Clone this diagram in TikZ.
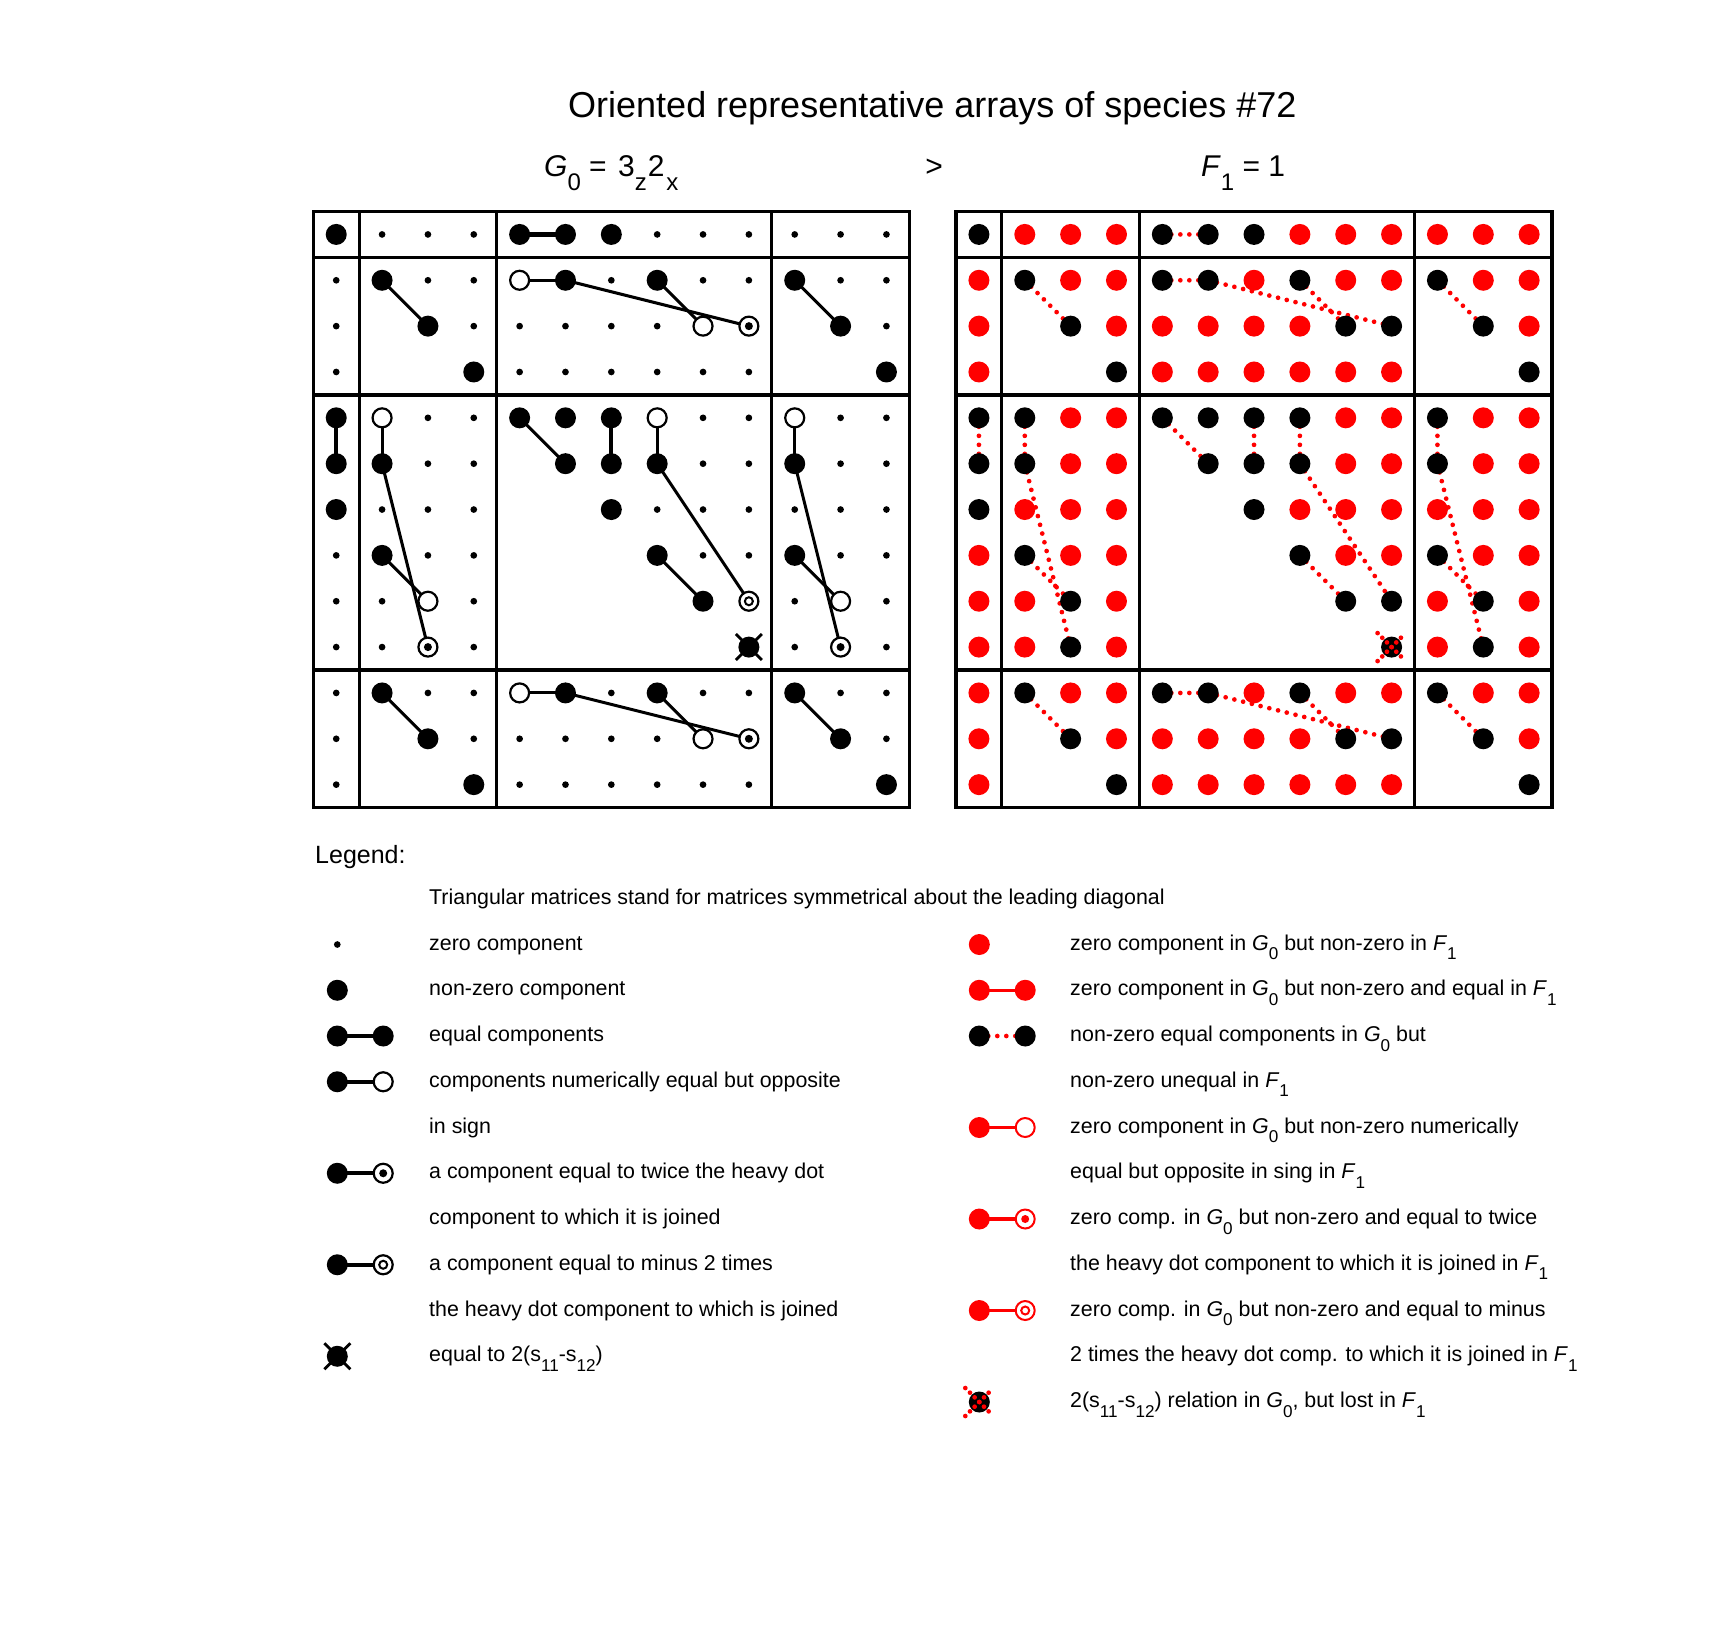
\documentclass[tikz,border=0pt]{standalone}
\usepackage{fontspec}
\setmainfont{Liberation Sans}
\usepackage{graphicx}
\pgfdeclarelayer{bg}
\pgfdeclarelayer{paper}
\pgfsetlayers{paper,bg,main}
\newcommand\sbs[1]{\raisebox{-0.45em}{\scalebox{0.8}{#1}}}
\tikzset{
  gridline/.style={line width=3.2pt},
  dotbase/.style={circle, inner sep=0pt, outer sep=0pt},
  dS/.style={dotbase, fill=black, minimum size=6.7pt},
  dB/.style={dotbase, fill=black, minimum size=21pt},
  dO/.style={dotbase, draw=black, fill=white, line width=2.2pt, minimum size=19pt},
  dT/.style={dO, path picture={\fill[black] (path picture bounding box.center) circle (4pt);}},
  dM/.style={dO, path picture={\draw[black,line width=2pt] (path picture bounding box.center) circle (4pt);}},
  dX/.style={dB},
  dE/.style={dotbase, minimum size=21pt},
  dK/.style={dB},
  dR/.style={dotbase, fill=red, minimum size=21pt},
  dL/.style={dB},
  rO/.style={dotbase, draw=red, fill=white, line width=2pt, minimum size=19pt},
  rT/.style={rO, path picture={\fill[red] (path picture bounding box.center) circle (4pt);}},
  rM/.style={rO, path picture={\draw[red,line width=2pt] (path picture bounding box.center) circle (4pt);}},
  mk/.style={d#1},
  eqline/.style={line width=4.2pt},
  cline/.style={line width=3pt},
  lgline/.style={line width=4pt},
  rline/.style={red, line width=3.3pt},
  rdot/.style={red, line width=4.7pt, line cap=round, dash pattern=on 0pt off 9pt},
  rX/.style={red, line width=4.7pt, line cap=round, dash pattern=on 0pt off 6.6pt},
  bX/.style={line width=2.8pt},
  lt/.style={anchor=base west, inner sep=0pt, font=\fontsize{21.4}{25}\selectfont},
  hd/.style={anchor=base west, inner sep=0pt, font=\fontsize{30}{34}\selectfont}
}
\begin{document}
\begin{tikzpicture}[x=1pt,y=-1pt]
\begin{pgfonlayer}{paper}
\fill[white] (0,0) rectangle (1715,1626);
\end{pgfonlayer}
\useasboundingbox (0,0) rectangle (1715,1626);

% ---------- titles
\node[anchor=base west, inner sep=0pt, font=\fontsize{36}{40}\selectfont] (title) at (568,117) {Oriented representative arrays of species \#72};
\node[hd] (hG) at (544,176.7) {\textit{G}\sbs{0} = \kern3pt 3\sbs{z}\kern1pt 2\kern2pt\sbs{x}};
\node[hd, anchor=base] (hgt) at (934,176.7) {>};
\node[hd] (hF) at (1201,176.7) {\textit{F}\sbs{1} = 1};

% ---------- grid frames
\foreach \X in {313.3,956} {
  \draw[gridline] (\X,211.5) rectangle ++(596.05,596.05);
  \foreach \k in {1,4,10} {
    \draw[gridline] ({\X+\k*45.85},211.5) -- ++(0,596.05);
    \draw[gridline] (\X,{211.5+\k*45.85}) -- ++(596.05,0);
  }
}

% ---------- left array G0
\foreach \row [count=\r] in {
  {B,S,S,S,B,B,B,S,S,S,S,S,S},
  {S,B,S,S,O,B,S,B,S,S,B,S,S},
  {S,E,B,S,S,S,S,S,O,T,E,B,S},
  {S,E,E,B,S,S,S,S,S,S,E,E,B},
  {B,O,S,S,B,B,B,O,S,S,O,S,S},
  {B,B,S,S,E,B,B,B,S,S,B,S,S},
  {B,S,S,S,E,E,B,S,S,S,S,S,S},
  {S,B,S,S,E,E,E,B,S,S,B,S,S},
  {S,S,O,S,E,E,E,E,B,M,S,O,S},
  {S,S,T,S,E,E,E,E,E,X,S,T,S},
  {S,B,S,S,O,B,S,B,S,S,B,S,S},
  {S,E,B,S,S,S,S,S,O,T,E,B,S},
  {S,E,E,B,S,S,S,S,S,S,E,E,B}}{
  \foreach \t [count=\c] in \row {
    \node[mk/.expanded=\t] (L-\r-\c) at ({313.3+(\c-0.5)*45.85},{211.5+(\r-0.5)*45.85}) {};
  }
}
\draw[bX] (L-10-10.center) ++(-13pt,-13pt) -- ++(26pt,26pt);
\draw[bX] (L-10-10.center) ++(-13pt,13pt) -- ++(26pt,-26pt);

% ---------- right array F1
\foreach \row [count=\r] in {
  {K,R,R,R,K,K,K,R,R,R,R,R,R},
  {R,K,R,R,K,K,R,K,R,R,K,R,R},
  {R,E,K,R,R,R,R,R,K,K,E,K,R},
  {R,E,E,K,R,R,R,R,R,R,E,E,K},
  {K,K,R,R,K,K,K,K,R,R,K,R,R},
  {K,K,R,R,E,K,K,K,R,R,K,R,R},
  {K,R,R,R,E,E,K,R,R,R,R,R,R},
  {R,K,R,R,E,E,E,K,R,R,K,R,R},
  {R,R,K,R,E,E,E,E,K,K,R,K,R},
  {R,R,K,R,E,E,E,E,E,L,R,K,R},
  {R,K,R,R,K,K,R,K,R,R,K,R,R},
  {R,E,K,R,R,R,R,R,K,K,E,K,R},
  {R,E,E,K,R,R,R,R,R,R,E,E,K}}{
  \foreach \t [count=\c] in \row {
    \node[mk/.expanded=\t] (R-\r-\c) at ({956+(\c-0.5)*45.85},{211.5+(\r-0.5)*45.85}) {};
  }
}
\draw[rX] (R-10-10.center) ++(-14pt,-14pt) -- ++(28pt,28pt);
\draw[rX] (R-10-10.center) ++(-14pt,14pt) -- ++(28pt,-28pt);

% ---------- connectors
\begin{pgfonlayer}{bg}
\foreach \a/\b in {1-5/1-6,5-1/6-1,5-7/6-7}
  \draw[eqline] (L-\a.center) -- (L-\b.center);
\foreach \a/\b in {2-5/2-6,2-2/3-3,2-6/3-10,2-8/3-9,2-11/3-12,
                   5-2/6-2,6-2/10-3,8-2/9-3,5-5/6-6,5-8/6-8,6-8/9-10,8-8/9-9,5-11/6-11,6-11/10-12,8-11/9-12,
                   11-5/11-6,11-2/12-3,11-6/12-10,11-8/12-9,11-11/12-12}
  \draw[cline] (L-\a.center) -- (L-\b.center);
\foreach \a/\b in {1-5/1-6,5-1/6-1,5-7/6-7,
                   2-5/2-6,2-2/3-3,2-6/3-10,2-8/3-9,2-11/3-12,
                   5-2/6-2,6-2/10-3,8-2/9-3,5-5/6-6,5-8/6-8,6-8/9-10,8-8/9-9,5-11/6-11,6-11/10-12,8-11/9-12,
                   11-5/11-6,11-2/12-3,11-6/12-10,11-8/12-9,11-11/12-12}
  \draw[rdot] (R-\a.center) -- (R-\b.center);
\end{pgfonlayer}

% ---------- legend
\node[anchor=base west, inner sep=0pt, font=\fontsize{25}{30}\selectfont] (lgtitle) at (315,863) {Legend:};
\node[lt] (lgtri) at (429,904.3) {Triangular matrices stand for matrices symmetrical about the leading diagonal};

% left symbols
\node[dS] (a0) at (337.3,944.5) {};
\node[dB] (a1) at (337.3,990.25) {};
\node[dB] (a2a) at (337.3,1036) {};
\node[dB] (a2b) at (383.2,1036) {};
\node[dB] (a3a) at (337.3,1081.75) {};
\node[dO] (a3b) at (383.2,1081.75) {};
\node[dB] (a5a) at (337.3,1173.25) {};
\node[dT] (a5b) at (383.2,1173.25) {};
\node[dB] (a7a) at (337.3,1264.75) {};
\node[dM] (a7b) at (383.2,1264.75) {};
\node[dX] (a9) at (337.3,1356.25) {};
\draw[bX] (a9.center) ++(-13pt,-13pt) -- ++(26pt,26pt);
\draw[bX] (a9.center) ++(-13pt,13pt) -- ++(26pt,-26pt);
\begin{pgfonlayer}{bg}
\draw[line width=4.6pt] (a2a.center) -- (a2b.center);
\draw[lgline] (a3a.center) -- (a3b.center);
\draw[lgline] (a5a.center) -- (a5b.center);
\draw[lgline] (a7a.center) -- (a7b.center);
\end{pgfonlayer}

% left texts
\node[lt] (ta0) at (429,950) {zero component};
\node[lt] (ta1) at (429,995.75) {non-zero component};
\node[lt] (ta2) at (429,1041.5) {equal components};
\node[lt] (ta3) at (429,1087.25) {components numerically equal but opposite};
\node[lt] (ta4) at (429,1133) {in sign};
\node[lt] (ta5) at (429,1178.75) {a component equal to twice the heavy dot};
\node[lt] (ta6) at (429,1224.5) {component to which it is joined};
\node[lt] (ta7) at (429,1270.25) {a component equal to minus 2 times};
\node[lt] (ta8) at (429,1316) {the heavy dot component to which is joined};
\node[lt] (ta9) at (429,1361.75) {equal to 2(s\sbs{11}-s\sbs{12})};

% right symbols
\node[dR] (b0) at (979.3,944.5) {};
\node[dR] (b1a) at (979.3,990.25) {};
\node[dR] (b1b) at (1025.2,990.25) {};
\node[dB] (b2a) at (979.3,1036) {};
\node[dB] (b2b) at (1025.2,1036) {};
\node[dR] (b4a) at (979.3,1127.5) {};
\node[rO] (b4b) at (1025.2,1127.5) {};
\node[dR] (b6a) at (979.3,1219) {};
\node[rT] (b6b) at (1025.2,1219) {};
\node[dR] (b8a) at (979.3,1310.5) {};
\node[rM] (b8b) at (1025.2,1310.5) {};
\node[dL] (b10) at (979.3,1402) {};
\draw[rX] (b10.center) ++(-14pt,-14pt) -- ++(28pt,28pt);
\draw[rX] (b10.center) ++(-14pt,14pt) -- ++(28pt,-28pt);
\begin{pgfonlayer}{bg}
\draw[rline] (b1a.center) -- (b1b.center);
\draw[rdot] (b2a.center) -- (b2b.center);
\draw[rline] (b4a.center) -- (b4b.center);
\draw[rline] (b6a.center) -- (b6b.center);
\draw[rline] (b8a.center) -- (b8b.center);
\end{pgfonlayer}

% right texts
\node[lt] (tb0) at (1070,950) {zero component in \textit{G}\sbs{0} but non-zero in \textit{F}\sbs{1}};
\node[lt] (tb1) at (1070,995.75) {zero component in \textit{G}\sbs{0} but non-zero and equal in \textit{F}\sbs{1}};
\node[lt] (tb2) at (1070,1041.5) {non-zero equal components in \textit{G}\sbs{0} but};
\node[lt] (tb3) at (1070,1087.25) {non-zero unequal in \textit{F}\sbs{1}};
\node[lt] (tb4) at (1070,1133) {zero component in \textit{G}\sbs{0} but non-zero numerically};
\node[lt] (tb5) at (1070,1178.75) {equal but opposite in sing in \textit{F}\sbs{1}};
\node[lt] (tb6) at (1070,1224.5) {zero comp. in \textit{G}\sbs{0} but non-zero and equal to twice};
\node[lt] (tb7) at (1070,1270.25) {the heavy dot component to which it is joined in \textit{F}\sbs{1}};
\node[lt] (tb8) at (1070,1316) {zero comp. in \textit{G}\sbs{0} but non-zero and equal to minus};
\node[lt] (tb9) at (1070,1361.75) {2 times the heavy dot comp. to which it is joined in \textit{F}\sbs{1}};
\node[lt] (tb10) at (1070,1407.5) {2(s\sbs{11}-s\sbs{12}) relation in \textit{G}\sbs{0}, but lost in \textit{F}\sbs{1}};
\end{tikzpicture}
\end{document}
